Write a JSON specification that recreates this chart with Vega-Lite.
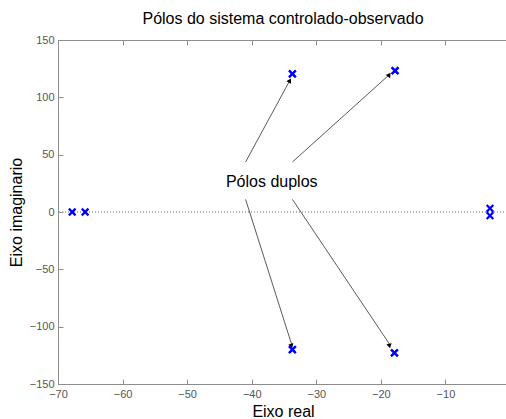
{
  "$schema": "https://vega.github.io/schema/vega-lite/v6.json",
  "autosize": {"type": "none"},
  "padding": {"left": 58, "top": 40, "right": 0, "bottom": 35},
  "width": 452,
  "height": 344,
  "background": "white",
  "title": {
    "text": "Pólos do sistema controlado-observado",
    "font": "Liberation Sans",
    "fontSize": 16,
    "fontWeight": "normal",
    "color": "#000000",
    "anchor": "middle",
    "frame": "group",
    "offset": 7,
    "dx": -1
  },
  "datasets": {
    "poles": [
      {"re": -67.8, "im": 0},
      {"re": -65.8, "im": 0},
      {"re": -33.7, "im": 120.5},
      {"re": -33.7, "im": 120.5},
      {"re": -17.8, "im": 123.2},
      {"re": -17.8, "im": 123.2},
      {"re": -33.7, "im": -120.0},
      {"re": -33.7, "im": -120.0},
      {"re": -17.9, "im": -122.8},
      {"re": -17.9, "im": -122.8},
      {"re": -3.1, "im": 3.2},
      {"re": -3.1, "im": -3.2}
    ],
    "arrows": [
      {"arrow": "a", "x0": -40.95, "y0": 43.6, "x1": -34.1, "y1": 114.7},
      {"arrow": "b", "x0": -33.7, "y0": 43.6, "x1": -18.7, "y1": 119.7},
      {"arrow": "c", "x0": -40.95, "y0": 11.0, "x1": -33.8, "y1": -115.7},
      {"arrow": "d", "x0": -33.7, "y0": 11.0, "x1": -18.6, "y1": -115.7}
    ],
    "labels": [
      {"label": "Pólos duplos", "re": -36.9, "im": 26.4}
    ]
  },
  "layer": [
    {
      "data": {"name": "arrows"},
      "mark": {"type": "rule", "color": "#b0b0b0", "strokeDash": [1, 2], "strokeWidth": 1},
      "encoding": {
        "y": {"datum": 0, "type": "quantitative", "scale": {"domain": [-150, 150]}, "axis": null}
      }
    },
    {
      "data": {"name": "arrows"},
      "mark": {"type": "rule", "color": "#303030", "strokeWidth": 0.8},
      "encoding": {
        "x": {"field": "x0", "type": "quantitative", "scale": {"domain": [-70, 0], "nice": false},
          "axis": {"orient": "top", "labels": false, "title": null, "values": [-70, -60, -50, -40, -30, -20, -10, 0], "tickSize": -5, "grid": false}},
        "x2": {"field": "x1"},
        "y": {"field": "y0", "type": "quantitative", "scale": {"domain": [-150, 150], "nice": false}, "axis": null},
        "y2": {"field": "y1"}
      }
    },
    {
      "data": {"name": "arrows"},
      "mark": {"type": "point", "shape": "triangle-up", "filled": true, "color": "#000000", "size": 28, "opacity": 1},
      "encoding": {
        "x": {"field": "x1", "type": "quantitative", "axis": null},
        "y": {"field": "y1", "type": "quantitative", "axis": null},
        "angle": {"field": "arrow", "type": "nominal", "scale": {"domain": ["a", "b", "c", "d"], "range": [28.5, 47.9, 162.5, 146.2]}, "legend": null}
      }
    },
    {
      "data": {"name": "labels"},
      "mark": {"type": "text", "font": "Liberation Sans", "fontSize": 16, "color": "#000000", "align": "center", "baseline": "middle"},
      "encoding": {
        "x": {"field": "re", "type": "quantitative", "axis": null},
        "y": {"field": "im", "type": "quantitative", "axis": null},
        "text": {"field": "label"}
      }
    },
    {
      "data": {"name": "poles"},
      "mark": {"type": "point", "shape": "M-1,-1L1,1M-1,1L1,-1", "filled": false, "color": "#0000ff", "strokeWidth": 2.2, "size": 45, "opacity": 1},
      "encoding": {
        "x": {"field": "re", "type": "quantitative", "title": "Eixo real",
          "axis": {"orient": "bottom", "values": [-70, -60, -50, -40, -30, -20, -10], "tickSize": -5, "labelPadding": 9, "labelFlush": false, "labelOverlap": false, "grid": false, "titlePadding": 4, "titleX": 225}},
        "y": {"field": "im", "type": "quantitative", "title": "Eixo imaginario",
          "axis": {"orient": "left", "values": [-150, -100, -50, 0, 50, 100, 150], "tickSize": -5, "labelPadding": 9, "labelFlush": false, "labelOverlap": false, "grid": false, "titlePadding": 5}}
      }
    }
  ],
  "resolve": {"axis": {"x": "independent", "y": "independent"}},
  "config": {
    "view": {"stroke": "#8c8c8c", "strokeWidth": 1},
    "axis": {
      "domainColor": "#8c8c8c",
      "tickColor": "#8c8c8c",
      "labelColor": "#555555",
      "labelFont": "Liberation Sans",
      "labelFontSize": 11,
      "titleFont": "Liberation Sans",
      "titleFontSize": 16,
      "titleFontWeight": "normal",
      "titleColor": "#000000"
    }
  }
}
